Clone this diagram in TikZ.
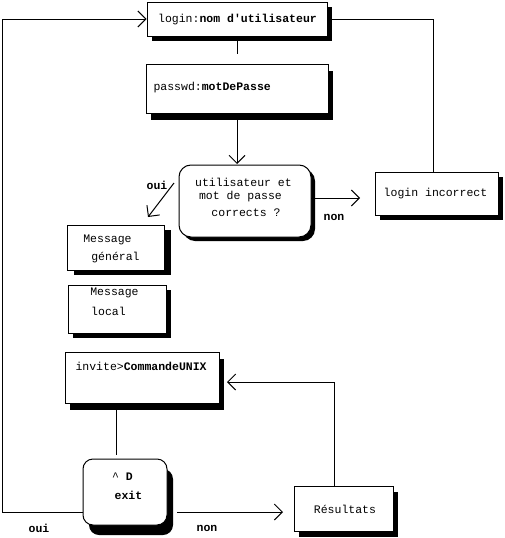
\documentclass[tikz,border=0pt]{standalone}
\usepackage{fontspec}
\setmainfont{Liberation Mono}[Ligatures=TeXOff]
\usetikzlibrary{arrows.meta,shadows}
\begin{document}
\begin{tikzpicture}[x=1pt,y=-1pt,line width=1pt,
  font=\fontsize{11.5}{15}\selectfont,
  box/.style 2 args={draw,fill=white,inner sep=0pt,
    drop shadow={fill=black,opacity=1,shadow xshift=#1pt,shadow yshift=-#2pt}},
  rbox/.style={rounded corners=12pt},
  txt/.style={inner sep=0pt},
  lbl/.style={inner sep=0pt,font=\fontsize{11.5}{15}\selectfont\bfseries},
  arr/.style={-{Straight Barb[length=8pt,width=16pt]}}]
\path[use as bounding box] (0,0) rectangle (504,538);

% boxes
\node[box={5}{5},minimum width=180pt,minimum height=34pt] (login) at (237,19) {};
\node[box={5}{7},minimum width=182pt,minimum height=49pt] (passwd) at (237,88.5) {};
\node[box={4}{4},rbox,minimum width=132pt,minimum height=72pt] (dec) at (245,201) {};
\node[box={5}{5},minimum width=123pt,minimum height=43pt] (inc) at (436.5,193.5) {};
\node[box={7}{5},minimum width=97pt,minimum height=45pt] (msgg) at (115.5,247.5) {};
\node[box={5}{5},minimum width=98pt,minimum height=48pt] (msgl) at (117,309) {};
\node[box={5}{7},minimum width=154pt,minimum height=51pt] (invite) at (142,377.5) {};
\node[box={6}{10},rounded corners=10pt,minimum width=84pt,minimum height=66pt] (exit) at (125,492) {};
\node[box={5}{6},minimum width=99pt,minimum height=45pt] (res) at (343.5,508.5) {};

% texts
\node[txt] (tlogin) at (237.5,20) {login:\textbf{nom d'utilisateur}};
\node[txt,anchor=west] (tpass) at (153,88) {passwd:\textbf{motDePasse}};
\node[txt] (tdec1) at (243.5,182) {utilisateur et};
\node[txt] (tdec2) at (240.5,197) {mot de passe};
\node[txt] (tdec3) at (246,213) {corrects ?};
\node[txt] (tinc) at (435.5,194) {login incorrect};
\node[txt] (tmg1) at (107.5,240) {Message};
\node[txt] (tmg2) at (115.5,258) {général};
\node[txt] (tml1) at (114.5,293) {Message};
\node[txt] (tml2) at (108.5,311) {local};
\node[txt,anchor=west] (tinv) at (75,366) {invite>\textbf{CommandeUNIX}};
\node[txt] (tex1) at (122.5,477) {\textasciicircum{} \textbf{D}};
\node[lbl] (tex2) at (128.5,495) {exit};
\node[txt] (tres) at (345,509) {Résultats};
\node[lbl] (oui1) at (157,185) {oui};
\node[lbl] (non1) at (334,217) {non};
\node[lbl] (oui2) at (39,528) {oui};
\node[lbl] (non2) at (207,528) {non};

% coordinates
\coordinate (c1a) at (237,41);
\coordinate (c1b) at (237,54);
\coordinate (c2a) at (237,120);
\coordinate (c2b) at (237,164);
\coordinate (c3a) at (311,198);
\coordinate (c3b) at (360,198);
\coordinate (c4a) at (174,183);
\coordinate (c4b) at (148,217);
\coordinate (c5a) at (433,19);
\coordinate (c5b) at (332,19);
\coordinate (c6a) at (2,512);
\coordinate (c6b) at (2,19);
\coordinate (c6c) at (83,512);
\coordinate (c7a) at (116,410);
\coordinate (c7b) at (116,455);
\coordinate (c8a) at (177,512);
\coordinate (c8b) at (283,512);
\coordinate (c9a) at (334,486);
\coordinate (c9b) at (334,382);
\coordinate (c9c) at (227,382);

% connectors
\draw (c1a) -- (c1b);
\draw[arr] (c2a) -- (c2b);
\draw[arr] (c3a) -- (c3b);
\draw[arr] (c4a) -- (c4b);
\draw (inc.north -| c5a) -- (c5a) -- (c5b);
\draw[arr] (c6c) -- (c6a) -- (c6b) -- (login.west);
\draw (c7a) -- (c7b);
\draw[arr] (c8a) -- (c8b);
\draw[arr] (c9a) -- (c9b) -- (c9c);
\end{tikzpicture}
\end{document}
